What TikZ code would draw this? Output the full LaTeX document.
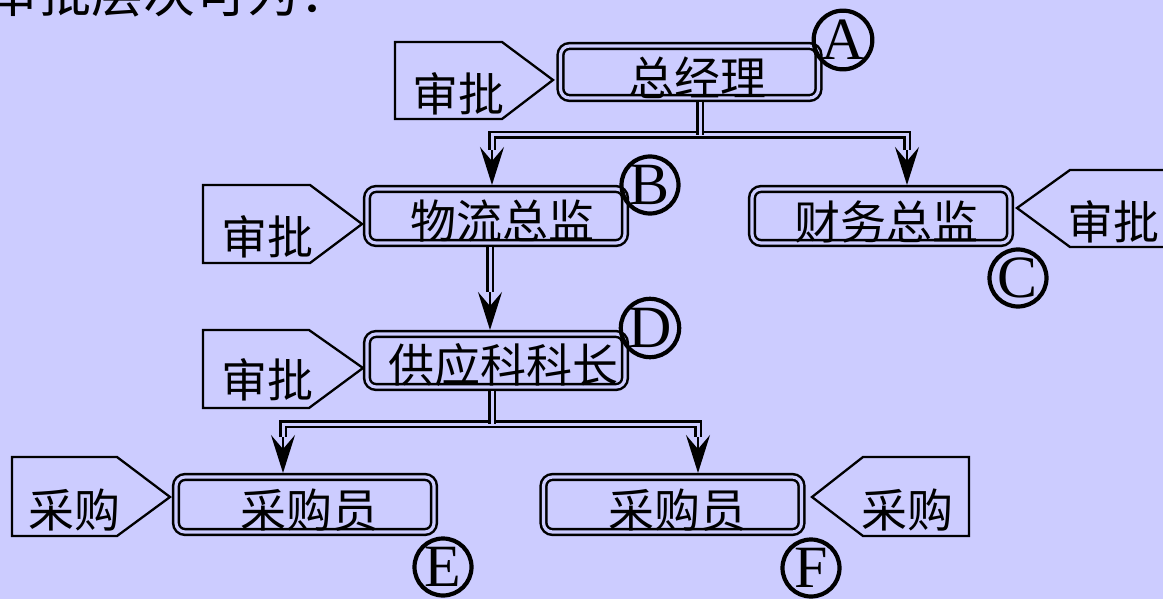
\documentclass[tikz,border=0pt]{standalone}
\usepackage{fontspec}
\newfontfamily\cjk{Noto Sans CJK SC}
\newfontfamily\lat{Liberation Serif}
\usetikzlibrary{arrows.meta,calc}
\definecolor{bg}{HTML}{CCCCFF}
\tikzset{
  box/.style={draw, double=bg, line width=2.5pt, double distance=3.2pt,
    rounded corners=9pt, inner sep=0pt, outer sep=4pt,
    minimum width=258pt, minimum height=54pt},
  lbl/.style={font=\cjk\fontsize{46}{46}\selectfont, inner sep=0pt},
  circ/.style={circle, draw, line width=4.2pt, minimum size=57pt, inner sep=0pt,
    font=\lat\fontsize{60}{60}\selectfont},
  tagline/.style={draw, line width=2.3pt, line join=miter},
  dbl/.style={draw, double=bg, line width=2.1pt, double distance=3pt},
  arr/.style={line width=2pt, -{Stealth[length=38pt, width=24pt, inset=14pt]}}
}
\begin{document}
\begin{tikzpicture}[x=1pt,y=-1pt]
\useasboundingbox (0,0) rectangle (1163,599);
\fill[bg] (0,0) rectangle (1163,599);
\clip (0,0) rectangle (1163,599);

% title line (cut off at top)
\node[lbl, font=\cjk\fontsize{52}{52}\selectfont, anchor=base west] (title) at (-13,13) {审批层次可为：};

% boxes
\node[box, minimum height=52pt] (A) at (689.5,72) {};
\node[box] (B) at (496,216) {};
\node[box] (C) at (881,216) {};
\node[box, minimum height=53pt] (D) at (496,360.5) {};
\node[box, minimum height=55pt] (E) at (305,504.5) {};
\node[box, minimum height=55pt] (F) at (672.5,504.5) {};

\node[lbl] (tA) at (697,78) {总经理};
\node[lbl] (tB) at (502,221) {物流总监};
\node[lbl] (tC) at (886,222) {财务总监};
\node[lbl] (tD) at (503,365) {供应科科长};
\node[lbl] (tE) at (309,510) {采购员};
\node[lbl] (tF) at (677,510) {采购员};

% circled letters
\node[circ] (cA) at (843,40) {A};
\node[circ] (cB) at (650,185) {B};
\node[circ] (cC) at (1018,278) {C};
\node[circ] (cD) at (650,328) {D};
\node[circ] (cE) at (443,567) {E};
\node[circ] (cF) at (811,568) {F};

% tags
\draw[tagline] (395,42) -- (502,42) -- (553,80) -- (502,119) -- (395,119) -- cycle;
\node[lbl] (gA) at (458,94) {审批};
\draw[tagline] (203,185) -- (310,185) -- (362,224) -- (310,263) -- (203,263) -- cycle;
\node[lbl] (gB) at (267,237) {审批};
\draw[tagline] (1175,170) -- (1070,170) -- (1017,208) -- (1070,247) -- (1175,247) -- cycle;
\node[lbl] (gC) at (1113,222) {审批};
\draw[tagline] (203,330) -- (309,330) -- (363,368) -- (309,408) -- (203,408) -- cycle;
\node[lbl] (gD) at (267,380) {审批};
\draw[tagline] (12,457) -- (117,457) -- (170,497) -- (117,536) -- (12,536) -- cycle;
\node[lbl] (gE) at (74,510) {采购};
\draw[tagline] (969,457) -- (863,457) -- (812,497) -- (863,536) -- (969,536) -- cycle;
\node[lbl] (gF) at (907,510) {采购};

% connectors A -> B, C
\coordinate (jA) at (700,135);
\coordinate (sB) at (492,150);
\coordinate (sC) at (907,150);
\coordinate (aB) at (492,142);
\coordinate (aC) at (907,142);
\draw[arr] (aB) -- (B.north -| aB);
\draw[arr] (aC) -- (C.north -| aC);
\draw[dbl] (sB) |- (jA) -| (sC);
\draw[dbl] (A.south -| jA) -- (jA);

% B -> D
\coordinate (sD) at (490,292);
\coordinate (aD) at (490,284);
\draw[arr] (aD) -- (D.north -| aD);
\draw[dbl] (B.south -| sD) -- (sD);

% D -> E, F
\coordinate (jD) at (492,424);
\coordinate (sE) at (283,437);
\coordinate (sF) at (698,437);
\coordinate (aE) at (283,429);
\coordinate (aF) at (698,429);
\draw[arr] (aE) -- (E.north -| aE);
\draw[arr] (aF) -- (F.north -| aF);
\draw[dbl] (sE) |- (jD) -| (sF);
\draw[dbl] (D.south -| jD) -- (jD);
\end{tikzpicture}
\end{document}
